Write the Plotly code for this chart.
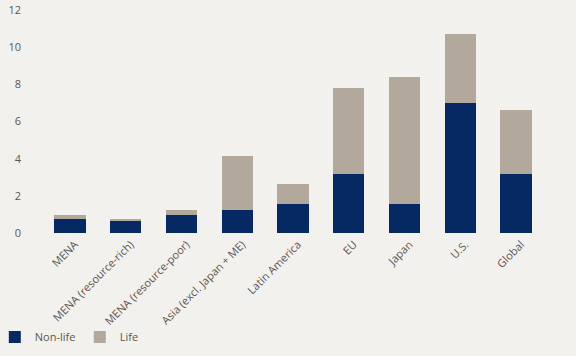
import plotly.graph_objects as go

categories = ["MENA", "MENA (resource-rich)", "MENA (resource-poor)", "Asia (excl. Japan + ME)",
              "Latin America", "EU", "Japan", "U.S.", "Global"]
non_life = [0.76, 0.65, 0.95, 1.25, 1.55, 3.15, 1.57, 7.0, 3.15]
life = [0.21, 0.11, 0.30, 2.90, 1.10, 4.67, 6.85, 3.70, 3.48]
y_ticks = [0, 2, 4, 6, 8, 10, 12]

NAVY = "#072963"
TAUPE = "#b3a89c"
BG = "#f3f1ee"
TXT = "#5b5650"

fig = go.Figure()
fig.add_bar(x=categories, y=non_life, name="Non-life", marker=dict(color=NAVY, line=dict(width=0)))
fig.add_bar(x=categories, y=life, name="Life", marker=dict(color=TAUPE, line=dict(width=0)))

fig.update_layout(
    width=576, height=356,
    barmode="stack", bargap=0.44,
    paper_bgcolor=BG, plot_bgcolor=BG,
    margin=dict(l=42, r=32, t=10, b=123, autoexpand=False),
    font=dict(family="Open Sans, Noto Sans, sans-serif", size=10, color=TXT),
    showlegend=True,
    legend=dict(orientation="h", xref="paper", yref="paper", x=-0.094, y=-0.466,
                xanchor="left", yanchor="middle", entrywidth=40, font=dict(size=11, color=TXT),
                bgcolor="rgba(0,0,0,0)", traceorder="normal"),
    xaxis=dict(tickangle=-45, showline=False, ticks="", showgrid=False, zeroline=False,
               tickfont=dict(size=11, color=TXT), ticklabelstandoff=2, ticklabelshift=5,
               automargin=False),
    yaxis=dict(range=[0, 12], tickvals=y_ticks, showgrid=False, zeroline=False, showline=False,
               ticks="", tickfont=dict(size=11, color=TXT), ticklabelstandoff=20, automargin=False),
)

fig.write_html("out.html", config={"displayModeBar": False},
               post_script="document.body.style.margin='0';")
